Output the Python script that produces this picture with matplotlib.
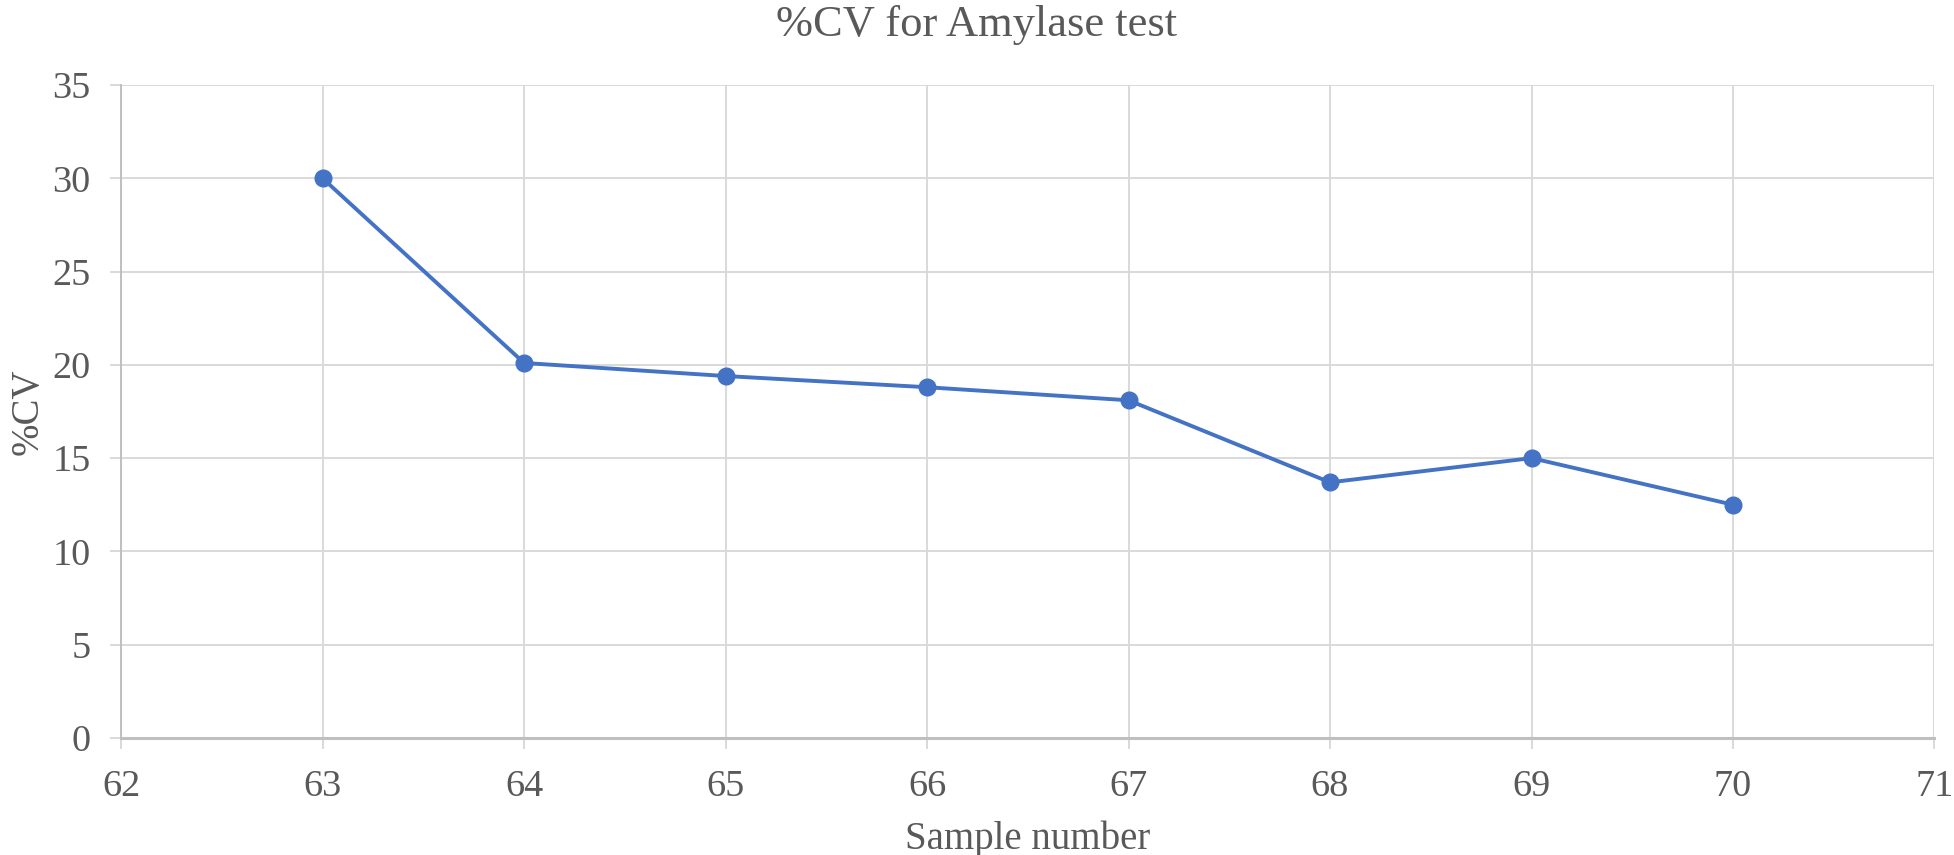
import numpy as np
import matplotlib.pyplot as plt

# data
sample = [63, 64, 65, 66, 67, 68, 69, 70]
cv = [30.0, 20.1, 19.4, 18.8, 18.1, 13.7, 15.0, 12.5]

xticks = np.arange(62, 72, 1)
yticks = np.arange(0, 40, 5)

txt = '#595959'
grid = '#d9d9d9'

plt.rcParams['font.family'] = ['Liberation Serif', 'DejaVu Serif']

fig = plt.figure(figsize=(19.54, 8.55), dpi=100)
ax = fig.add_axes([0.062, 0.137, 0.928, 0.7635])

ax.plot(sample, cv, color='#4472C4', linewidth=2.8, marker='o',
        markersize=12, zorder=3)

ax.set_xlim(62, 71)
ax.set_ylim(0, 35)
ax.set_xticks(xticks)
ax.set_yticks(yticks)
ax.grid(True, color=grid, linewidth=1.4)
ax.set_axisbelow(True)

for s in ['top', 'right']:
    ax.spines[s].set_visible(False)
ax.spines['left'].set_color('#bfbfbf')
ax.spines['left'].set_linewidth(1.4)
ax.spines['bottom'].set_color('#bfbfbf')
ax.spines['bottom'].set_linewidth(2.2)

ax.tick_params(axis='both', colors=grid, labelcolor=txt, labelsize=27.5,
               length=8, width=1.4)
ax.tick_params(axis='y', pad=14)
ax.tick_params(axis='x', pad=15)

fig.text(0.5, 0.971, '%CV for Amylase test', color=txt, fontsize=32,
         ha='center', va='center')
ax.set_xlabel('Sample number', color=txt, fontsize=28, labelpad=12)
ax.set_ylabel('%CV', color=txt, fontsize=28, labelpad=4)

fig.savefig('out.png', dpi=100)
